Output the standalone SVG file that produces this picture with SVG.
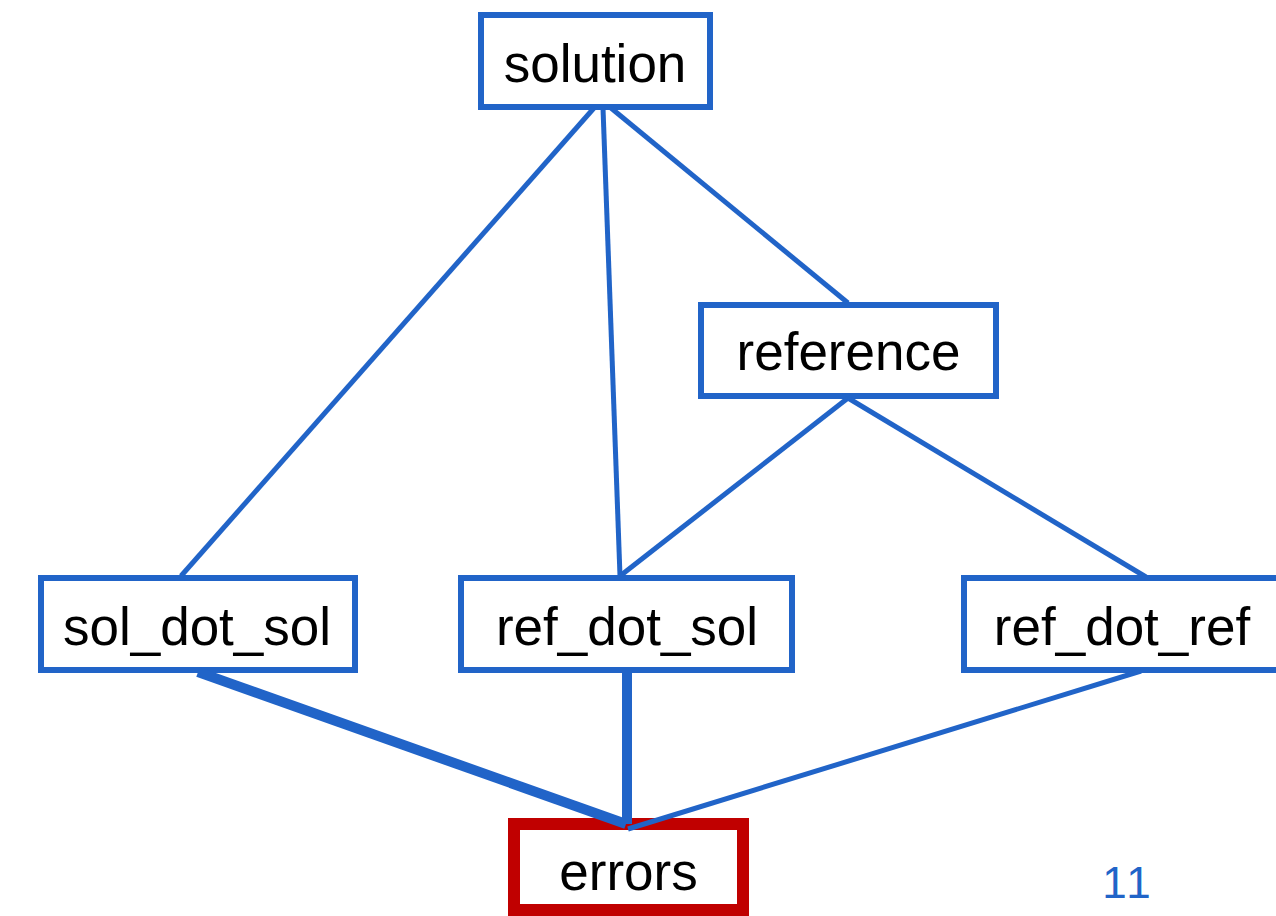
<svg xmlns="http://www.w3.org/2000/svg" width="1276" height="916" viewBox="0 0 1276 916">
<style>
.box{fill:#ffffff;stroke:#2164c8;stroke-width:6}
.err{fill:#ffffff;stroke:#c00000;stroke-width:12}
.lbl{font-family:"Liberation Sans",Arial,sans-serif;font-size:53px;fill:#000000;text-anchor:middle}
.edge{stroke:#2164c8;stroke-width:5;fill:none}
.thick{stroke:#2164c8;stroke-width:10;fill:none}
.pg{font-family:"Liberation Sans",Arial,sans-serif;font-size:44px;fill:#2164c8;text-anchor:middle;letter-spacing:3px}
</style>
<rect width="1276" height="916" fill="#ffffff"/>
<g id="solution">
<rect class="box" x="481" y="15" width="229" height="92"/>
<text class="lbl" x="595" y="82">solution</text>
</g>
<g id="reference">
<rect class="box" x="701" y="305" width="295" height="91"/>
<text class="lbl" x="848.5" y="370">reference</text>
</g>
<g id="sol_dot_sol">
<rect class="box" x="41" y="578" width="314" height="92"/>
<text class="lbl" x="197" y="645">sol_dot_sol</text>
</g>
<g id="ref_dot_sol">
<rect class="box" x="461" y="578" width="331" height="92"/>
<text class="lbl" x="627" y="645">ref_dot_sol</text>
</g>
<g id="ref_dot_ref">
<rect class="box" x="964" y="578" width="330" height="92"/>
<text class="lbl" x="1122" y="645">ref_dot_ref</text>
</g>
<g id="errors">
<rect class="err" x="514" y="824" width="229" height="86"/>
<text class="lbl" x="628.5" y="890">errors</text>
</g>
<g id="connectors">
<line class="edge" x1="594" y1="108" x2="181" y2="576"/>
<line class="edge" x1="603" y1="108" x2="620" y2="576"/>
<line class="edge" x1="611" y1="108" x2="848" y2="303"/>
<line class="edge" x1="848" y1="398" x2="620" y2="576"/>
<line class="edge" x1="848" y1="398" x2="1146" y2="577"/>
<line class="thick" x1="198" y1="672" x2="626" y2="824"/>
<line class="thick" x1="627" y1="672" x2="627" y2="824"/>
<line class="edge" x1="1141" y1="671" x2="628" y2="829"/>
</g>
<text class="pg" x="1128" y="898">11</text>
</svg>
